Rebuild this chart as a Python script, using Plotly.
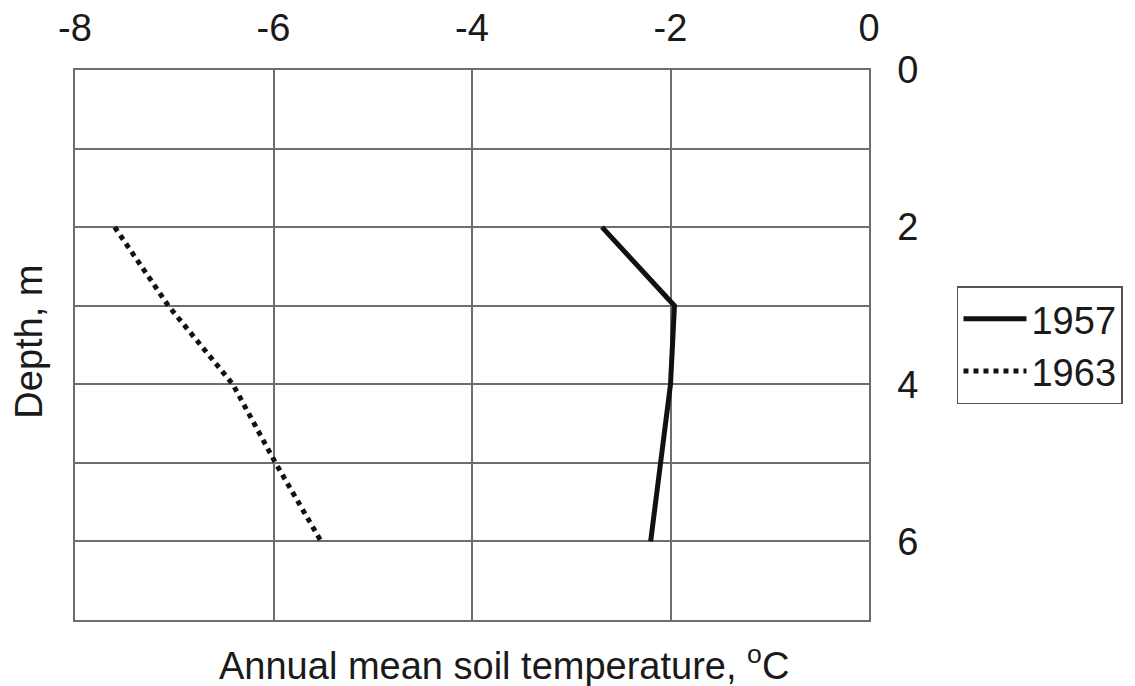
import plotly.graph_objects as go

depth = [2, 3, 4, 5, 6]
temp_1957 = [-2.69, -1.96, -2.0, -2.10, -2.20]
temp_1963 = [-7.60, -7.06, -6.41, -5.98, -5.52]
series_names = ["1957", "1963"]
x_ticks = [-8, -6, -4, -2, 0]
x_ticktext = ["-8", "-6", "-4", "-2", "0"]
y_ticks = [0, 2, 4, 6]
y_minor = [1, 3, 5]

FONT = "Liberation Sans, Arial, sans-serif"
GRID = "#6e6e6e"
FS = 38

fig = go.Figure()
fig.add_trace(go.Scatter(x=temp_1957, y=depth, mode="lines", name=series_names[0],
                         line=dict(color="#111111", width=5)))
fig.add_trace(go.Scatter(x=temp_1963, y=depth, mode="lines", name=series_names[1],
                         line=dict(color="#111111", width=5, dash="dot")))

# page body adds an 8px offset, so the figure is sized to fit the window
fig.update_layout(
    width=1127, height=678,
    margin=dict(l=67, r=266, t=62, b=66),
    paper_bgcolor="white", plot_bgcolor="white",
    font=dict(family=FONT, size=FS, color="#1a1a1a"),
    showlegend=True,
    legend=dict(x=1.1108, y=0.50, xanchor="left", yanchor="middle",
                bordercolor="#555555", borderwidth=1.5,
                font=dict(size=FS), tracegroupgap=0,
                itemwidth=63),
    xaxis=dict(side="top", range=[-8, 0], tickvals=x_ticks, ticktext=x_ticktext,
               showgrid=True, gridcolor=GRID, gridwidth=1.5,
               showline=True, linecolor=GRID, linewidth=1.5, mirror=True,
               zeroline=False, ticks="", ticklabelstandoff=12, automargin=False,
               tickfont=dict(size=FS)),
    yaxis=dict(side="right", range=[7, 0], tickvals=y_ticks,
               showgrid=True, gridcolor=GRID, gridwidth=1.5,
               minor=dict(tickvals=y_minor, showgrid=True, gridcolor=GRID, gridwidth=1.5, ticks=""),
               showline=True, linecolor=GRID, linewidth=1.5, mirror=True,
               zeroline=False, ticks="", ticklabelstandoff=19, automargin=False,
               tickfont=dict(size=FS)),
    annotations=[
        dict(text="Annual mean soil temperature, <sup>o</sup>C", xref="paper", yref="paper",
             x=0.540, y=-0.078, xanchor="center", yanchor="middle", showarrow=False,
             font=dict(size=FS)),
        dict(text="Depth, m", xref="paper", yref="paper", x=-0.058, y=0.506,
             xanchor="center", yanchor="middle", textangle=-90, showarrow=False,
             font=dict(size=FS)),
    ],
)

fig.write_html("out.html")
